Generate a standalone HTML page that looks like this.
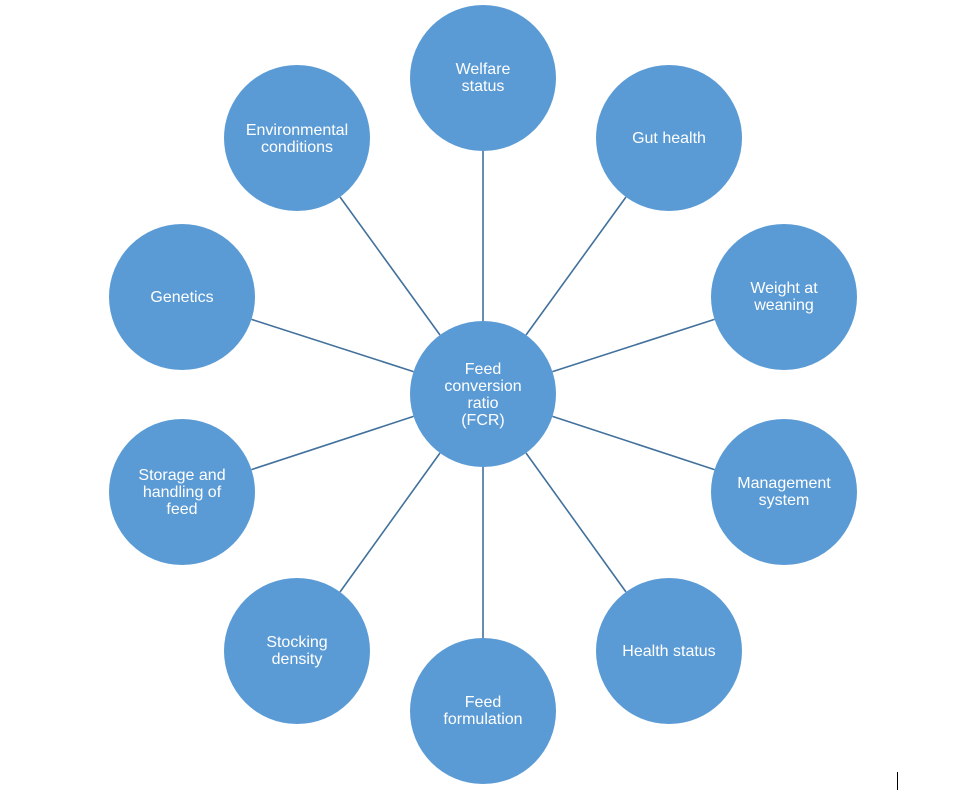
<!DOCTYPE html>
<html><head><meta charset="utf-8"><style>
html,body{margin:0;padding:0;background:#fff;}
svg{display:block}
text{font-family:"Liberation Sans",Arial,sans-serif;font-size:16px;fill:#fff;text-anchor:middle}
</style></head><body>
<svg width="968" height="792" viewBox="0 0 968 792" xmlns="http://www.w3.org/2000/svg">
<g stroke="#41719c" stroke-width="1.6">
<line x1="483" y1="321" x2="483" y2="151"/>
<line x1="526" y1="335" x2="626" y2="197"/>
<line x1="552.5" y1="371.6" x2="714.5" y2="319.4"/>
<line x1="552.5" y1="416.4" x2="714.5" y2="469.6"/>
<line x1="526" y1="453" x2="626" y2="592"/>
<line x1="483" y1="467" x2="483" y2="638"/>
<line x1="440" y1="453" x2="340" y2="592"/>
<line x1="413.5" y1="416.4" x2="251.5" y2="469.6"/>
<line x1="413.5" y1="371.6" x2="251.5" y2="319.4"/>
<line x1="440" y1="335" x2="340" y2="197"/>
</g>
<g fill="#5b9bd5">
<circle cx="483" cy="394" r="73"/>
<circle cx="483" cy="78" r="73"/>
<circle cx="669" cy="138" r="73"/>
<circle cx="784" cy="297" r="73"/>
<circle cx="784" cy="492" r="73"/>
<circle cx="669" cy="651" r="73"/>
<circle cx="483" cy="711" r="73"/>
<circle cx="297" cy="651" r="73"/>
<circle cx="182" cy="492" r="73"/>
<circle cx="182" cy="297" r="73"/>
<circle cx="297" cy="138" r="73"/>
</g>
<text x="483" y="374">Feed</text>
<text x="483" y="391">conversion</text>
<text x="483" y="408">ratio</text>
<text x="483" y="425">(FCR)</text>
<text x="483" y="74">Welfare</text>
<text x="483" y="91">status</text>
<text x="669" y="143">Gut health</text>
<text x="784" y="293">Weight at</text>
<text x="784" y="310">weaning</text>
<text x="784" y="488">Management</text>
<text x="784" y="505">system</text>
<text x="669" y="656">Health status</text>
<text x="483" y="707">Feed</text>
<text x="483" y="724">formulation</text>
<text x="297" y="647">Stocking</text>
<text x="297" y="664">density</text>
<text x="182" y="480">Storage and</text>
<text x="182" y="497">handling of</text>
<text x="182" y="514">feed</text>
<text x="182" y="302">Genetics</text>
<text x="297" y="135">Environmental</text>
<text x="297" y="152">conditions</text>
<line x1="897.5" y1="772" x2="897.5" y2="790" stroke="#000" stroke-width="1"/>
</svg>
</body></html>
